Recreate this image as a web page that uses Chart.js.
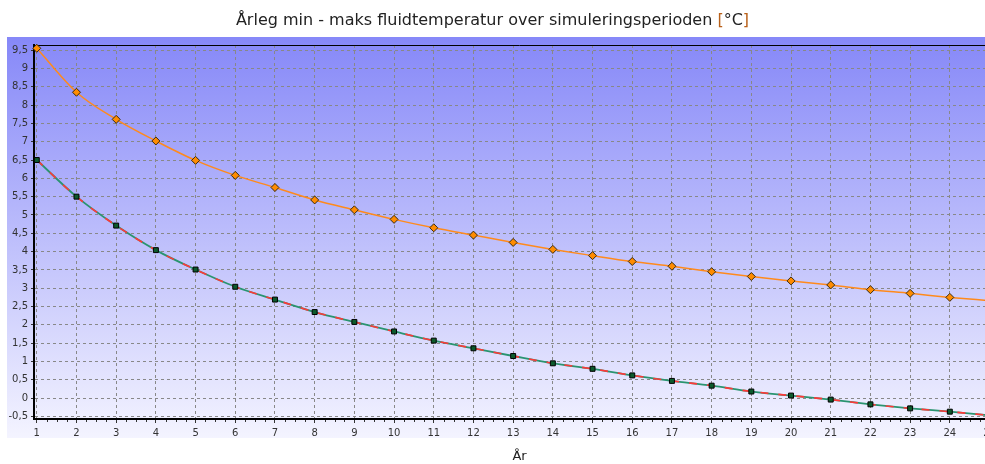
<!DOCTYPE html>
<html>
<head>
<meta charset="utf-8">
<script src="https://cdn.jsdelivr.net/npm/chart.js@4.4.1/dist/chart.umd.min.js"></script>
<style>
  html, body { margin: 0; padding: 0; background: #fff; overflow: hidden; }
  #wrap { position: relative; width: 985px; height: 464px; overflow: hidden; }
  #cv { position: absolute; left: 0; top: 0; }
  #title { position: absolute; left: 0; top: 10px; width: 985px; text-align: center;
           font-family: "DejaVu Sans", sans-serif; font-size: 16px; color: #222; }
  #title .br { color: #b8601a; }
</style>
</head>
<body>
<div id="wrap">
  <canvas id="cv" width="1010" height="464" style="width:1010px;height:464px"></canvas>
  <div id="title">Årleg min - maks fluidtemperatur over simuleringsperioden <span class="br">[</span>°C<span class="br">]</span></div>
</div>
<script>
const years = [1,2,3,4,5,6,7,8,9,10,11,12,13,14,15,16,17,18,19,20,21,22,23,24,25];
const maxTemp = [9.55,8.35,7.61,7.02,6.49,6.08,5.75,5.41,5.14,4.88,4.65,4.45,4.25,4.06,3.89,3.73,3.60,3.45,3.32,3.20,3.09,2.96,2.86,2.75,2.66];
const minTemp = [6.50,5.50,4.71,4.04,3.51,3.04,2.69,2.35,2.08,1.82,1.57,1.36,1.15,0.95,0.80,0.62,0.47,0.34,0.18,0.07,-0.04,-0.17,-0.28,-0.37,-0.47];
const yTicks = [-0.5,0,0.5,1,1.5,2,2.5,3,3.5,4,4.5,5,5.5,6,6.5,7,7.5,8,8.5,9,9.5];
const xAxisTitle = 'År';

const pts = arr => years.map((x, i) => ({x: x, y: arr[i]}));
const fmt = v => String(v).replace('.', ',');

const panelPlugin = {
  id: 'panel',
  beforeDraw(chart) {
    const ctx = chart.ctx;
    const top = 37, bottom = 438;
    const g = ctx.createLinearGradient(0, top, 0, bottom);
    g.addColorStop(0, 'rgb(134,136,248)');
    g.addColorStop(1, 'rgb(244,244,255)');
    ctx.save();
    ctx.fillStyle = g;
    ctx.fillRect(7, top, chart.width - 7, bottom - top);
    ctx.restore();
  },
  beforeDatasetsDraw(chart) {
    const ctx = chart.ctx, a = chart.chartArea;
    const xs = chart.scales.x;
    ctx.save();
    ctx.strokeStyle = '#000';
    ctx.lineWidth = 1;
    ctx.beginPath();
    ctx.moveTo(a.left, a.top + 0.5);
    ctx.lineTo(a.right, a.top + 0.5);
    ctx.stroke();
    ctx.strokeStyle = '#333';
    ctx.beginPath();
    for (let v = 1; v <= 25.3; v += 0.25) {
      if (Math.abs(v - Math.round(v)) < 1e-6) continue;
      const px = Math.round(xs.getPixelForValue(v)) + 0.5;
      ctx.moveTo(px, a.bottom + 1);
      ctx.lineTo(px, a.bottom + 3);
    }
    ctx.stroke();
    ctx.restore();
  }
};

new Chart(document.getElementById('cv'), {
  type: 'line',
  data: {
    datasets: [
      {
        label: 'maks',
        order: 0,
        data: pts(maxTemp),
        borderColor: '#ff8a1c',
        borderWidth: 1.5,
        pointStyle: 'rectRot',
        pointRadius: 4,
        pointBackgroundColor: '#ff8c00',
        pointBorderColor: '#3a2a10',
        pointBorderWidth: 1,
        cubicInterpolationMode: 'monotone'
      },
      {
        label: 'min (under)',
        order: 2,
        data: pts(minTemp),
        borderColor: '#2a9470',
        borderWidth: 1.8,
        pointRadius: 0,
        cubicInterpolationMode: 'monotone'
      },
      {
        label: 'min',
        order: 1,
        data: pts(minTemp),
        borderColor: '#ff3838',
        borderWidth: 1.6,
        borderDash: [8, 10],
        pointStyle: 'rect',
        pointRadius: 3.5,
        pointBackgroundColor: '#0c5a2c',
        pointBorderColor: '#000',
        pointBorderWidth: 1,
        cubicInterpolationMode: 'monotone'
      }
    ]
  },
  options: {
    responsive: false,
    animation: false,
    clip: false,
    layout: { padding: { top: 45, left: 0, right: 0, bottom: 0 } },
    plugins: { legend: { display: false }, tooltip: { enabled: false }, title: { display: false } },
    scales: {
      x: {
        type: 'linear',
        min: 0.93,
        max: 25.39,
        afterBuildTicks: s => { s.ticks = years.map(v => ({ value: v })); },
        afterFit: s => { s.height = 45; s.paddingRight = 0; s.paddingLeft = 0; },
        ticks: {
          autoSkip: false, maxRotation: 0, padding: 4,
          color: '#333', font: { family: 'DejaVu Sans, sans-serif', size: 10 }
        },
        grid: {
          color: '#888888', lineWidth: 1, drawTicks: true,
          tickLength: 4, tickColor: '#333', tickBorderDash: []
        },
        border: { display: true, color: '#000', width: 2, dash: [3, 3] },
        title: {
          display: true, text: xAxisTitle, color: '#222',
          font: { family: 'DejaVu Sans, sans-serif', size: 13 },
          padding: { top: 0, bottom: 0 }
        }
      },
      y: {
        type: 'linear',
        min: -0.57,
        max: 9.64,
        afterBuildTicks: s => { s.ticks = yTicks.map(v => ({ value: v })); },
        afterFit: s => { s.width = 34; },
        ticks: {
          padding: 3, color: '#333',
          font: { family: 'DejaVu Sans, sans-serif', size: 10 },
          callback: v => fmt(v)
        },
        grid: {
          color: '#888888', lineWidth: 1, drawTicks: true,
          tickLength: 3, tickColor: '#333', tickBorderDash: []
        },
        border: { display: true, color: '#000', width: 2, dash: [3, 3] }
      }
    }
  },
  plugins: [panelPlugin]
});
</script>
</body>
</html>
